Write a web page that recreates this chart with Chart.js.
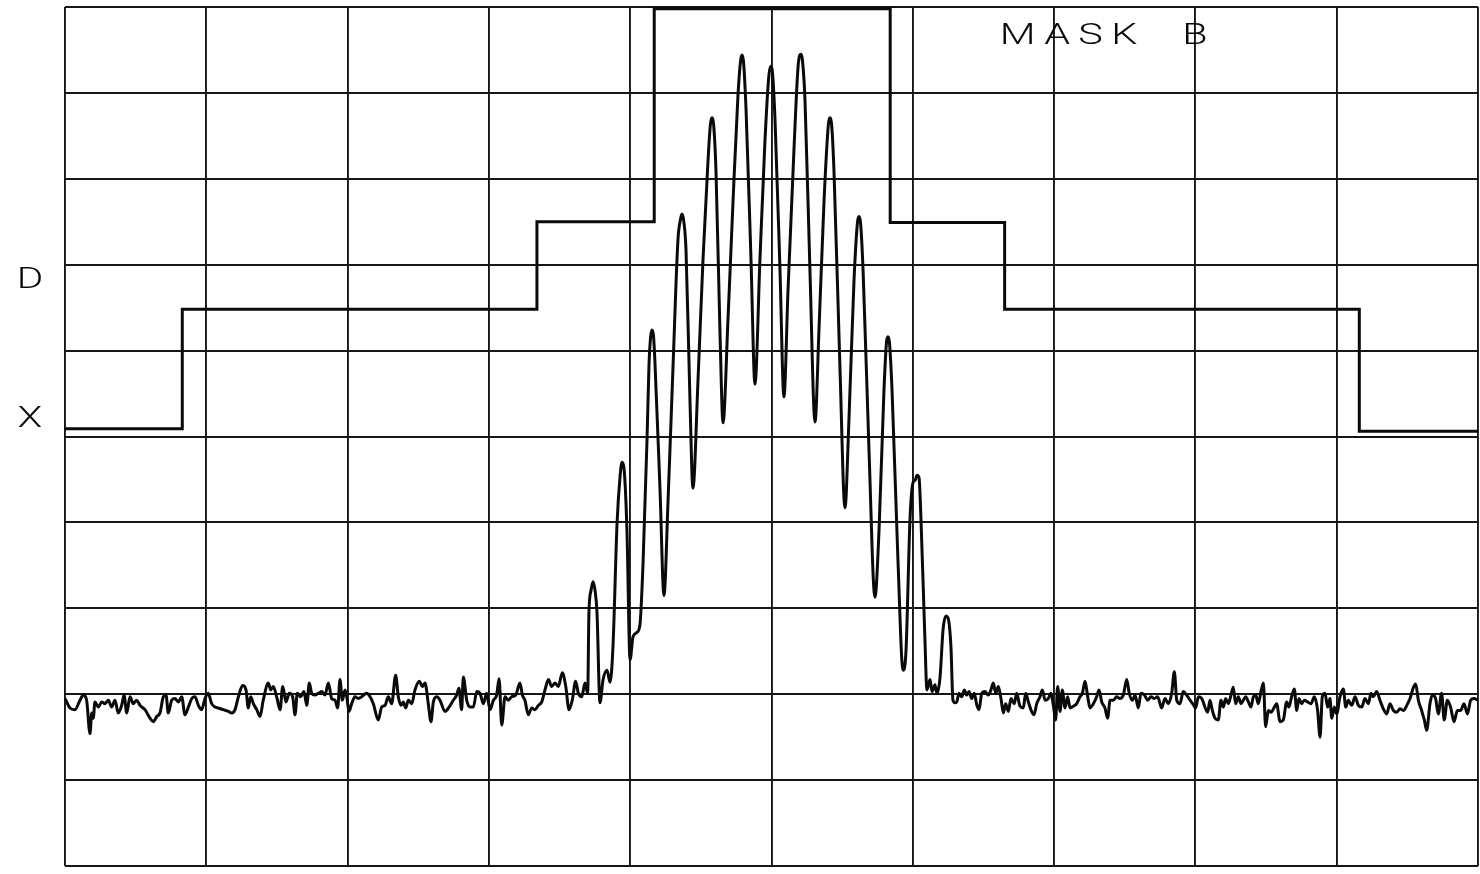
<!DOCTYPE html>
<html>
<head>
<meta charset="utf-8">
<title>MASK B</title>
<script src="https://cdn.jsdelivr.net/npm/chart.js@4.4.1/dist/chart.umd.min.js"></script>
<style>
  html, body { margin: 0; padding: 0; background: #fff; }
  canvas { display: block; }
</style>
</head>
<body>
<canvas id="plot" width="1480" height="874"></canvas>
<script>
// x: frequency in graticule divisions (0..10), y: level in dB (0 dB ref at top, 10 dB/div)

// noise floor below the signal
const noiseLowFreq = [
  0.000, 0.035, 0.071, 0.106, 0.130, 0.153, 0.177, 0.189, 0.200, 0.212,
  0.236, 0.260, 0.283, 0.307, 0.330, 0.354, 0.377, 0.401, 0.418, 0.437,
  0.460, 0.483, 0.507, 0.531, 0.566, 0.602, 0.625, 0.649, 0.672, 0.696,
  0.715, 0.731, 0.755, 0.778, 0.802, 0.826, 0.849, 0.873, 0.897, 0.920,
  0.944, 0.967, 0.991, 1.014, 1.038, 1.062, 1.085, 1.120, 1.156, 1.179,
  1.203, 1.227, 1.257, 1.281, 1.297, 1.314, 1.333, 1.357, 1.380, 1.403,
  1.439, 1.456, 1.474, 1.498, 1.522, 1.541, 1.564, 1.587, 1.611, 1.628,
  1.644, 1.668, 1.691, 1.711, 1.729, 1.746, 1.769, 1.793, 1.817, 1.840,
  1.864, 1.887, 1.911, 1.930, 1.946, 1.963, 1.982, 1.994, 2.010, 2.029,
  2.052, 2.076, 2.100, 2.135, 2.159, 2.182, 2.217, 2.241, 2.265, 2.288,
  2.312, 2.340, 2.359, 2.378, 2.394, 2.411, 2.430, 2.454, 2.477, 2.508,
  2.529, 2.548, 2.571, 2.590, 2.607, 2.631, 2.654, 2.689, 2.718, 2.748,
  2.772, 2.788, 2.807, 2.819, 2.843, 2.866, 2.890, 2.914, 2.937, 2.961,
  2.984, 3.008, 3.032, 3.055, 3.072, 3.091, 3.114, 3.137, 3.161, 3.190,
  3.220, 3.237, 3.255, 3.279, 3.303, 3.326, 3.350, 3.374, 3.397, 3.421,
  3.444, 3.468, 3.491, 3.520, 3.544, 3.567, 3.590, 3.614, 3.633, 3.657,
  3.680
];
const noiseLowLevel = [
  -80.5, -81.6, -81.8, -80.7, -80.1, -80.7, -84.6, -82.2, -82.8, -80.9,
  -81.5, -80.9, -81.1, -80.7, -81.5, -80.7, -82.2, -81.3, -80.1, -82.2,
  -80.3, -81.1, -80.7, -81.3, -81.8, -82.8, -83.2, -82.6, -82.2, -80.3,
  -80.1, -82.2, -80.7, -80.5, -80.9, -80.3, -82.4, -81.5, -80.5, -80.3,
  -81.3, -81.8, -80.5, -79.9, -81.1, -81.5, -81.6, -81.8, -82.0, -82.2,
  -81.8, -80.3, -79.0, -79.5, -81.6, -80.3, -81.1, -81.8, -82.6, -80.7,
  -78.7, -79.5, -79.1, -80.3, -81.8, -79.1, -80.9, -79.9, -80.3, -82.4,
  -79.9, -80.3, -79.7, -81.3, -78.7, -79.9, -80.1, -79.9, -79.7, -80.1,
  -78.7, -80.5, -80.7, -81.6, -78.3, -80.7, -79.5, -80.3, -82.0, -81.1,
  -80.3, -80.5, -80.3, -79.9, -80.3, -81.1, -83.0, -81.5, -81.3, -80.3,
  -81.1, -77.8, -80.3, -81.3, -80.9, -81.6, -80.7, -81.1, -79.5, -78.5,
  -79.1, -78.7, -81.1, -83.2, -80.9, -80.3, -80.7, -82.0, -81.5, -80.7,
  -80.1, -79.3, -81.8, -78.0, -80.7, -81.5, -81.5, -79.7, -79.9, -81.1,
  -79.9, -81.8, -80.7, -80.1, -78.2, -83.6, -80.3, -80.7, -80.3, -80.1,
  -78.7, -80.1, -80.7, -82.4, -81.6, -81.8, -81.3, -80.9, -79.5, -78.3,
  -79.1, -78.7, -79.1, -77.5, -79.1, -81.8, -80.7, -78.5, -79.9, -80.3,
  -78.7
];

// modulated carrier: side lobes around centre frequency
const lobeFreq = [
  3.699, 3.708, 3.723, 3.737, 3.751, 3.765, 3.786, 3.808, 3.836, 3.857,
  3.878, 3.907, 3.928, 3.942, 3.956, 3.977, 3.999, 4.020, 4.048, 4.069,
  4.091, 4.119, 4.133, 4.144, 4.154, 4.165, 4.175, 4.211, 4.239, 4.268,
  4.303, 4.338, 4.356, 4.366, 4.377, 4.395, 4.423, 4.444, 4.480, 4.515,
  4.551, 4.568, 4.579, 4.590, 4.607, 4.635, 4.657, 4.692, 4.728, 4.763,
  4.781, 4.791, 4.802, 4.820, 4.855, 4.883, 4.918, 4.954, 4.982, 4.996,
  5.007, 5.025, 5.060, 5.088, 5.117, 5.159, 5.191, 5.209, 5.219, 5.237,
  5.272, 5.308, 5.336, 5.372, 5.403, 5.414, 5.425, 5.442, 5.485, 5.520,
  5.548, 5.584, 5.609, 5.619, 5.630, 5.648, 5.690, 5.732, 5.761, 5.796,
  5.814, 5.824, 5.835, 5.853, 5.895, 5.931, 5.952, 5.980, 6.001, 6.016,
  6.030, 6.044, 6.058, 6.086, 6.100, 6.122, 6.136, 6.157, 6.171, 6.193,
  6.214, 6.235, 6.249, 6.270, 6.284, 6.299
];
const lobeLevel = [
  -79.9, -70.5, -67.9, -66.9, -67.9, -70.5, -81.0, -78.3, -77.2, -78.6,
  -74.5, -60.1, -54.7, -53.0, -53.7, -60.9, -76.0, -73.3, -72.8, -71.9,
  -64.7, -50.4, -41.7, -38.5, -37.6, -38.3, -41.3, -56.2, -68.5, -57.4,
  -41.9, -27.1, -24.7, -24.1, -24.7, -28.3, -45.8, -56.0, -43.4, -29.5,
  -17.8, -13.6, -12.9, -13.6, -19.0, -37.6, -48.4, -36.4, -22.5, -10.2,
  -6.3, -5.6, -6.4, -12.0, -29.5, -43.9, -29.5, -15.5, -7.9, -6.9,
  -7.6, -13.2, -30.6, -45.4, -32.9, -16.6, -6.4, -5.5, -6.2, -10.8,
  -30.6, -48.3, -37.6, -22.5, -13.6, -12.9, -13.6, -19.0, -42.3, -58.3,
  -48.1, -31.8, -25.0, -24.4, -25.1, -30.6, -51.6, -68.7, -60.9, -44.6,
  -39.0, -38.4, -39.1, -44.6, -64.4, -77.2, -74.9, -59.7, -55.4, -55.1,
  -54.5, -54.8, -59.7, -73.7, -79.5, -78.3, -79.7, -78.9, -79.9, -78.0,
  -72.5, -70.9, -71.1, -74.5, -80.7, -81.0
];

// noise floor above the signal
const noiseHighFreq = [
  6.311, 6.327, 6.346, 6.365, 6.381, 6.398, 6.417, 6.435, 6.452, 6.469,
  6.488, 6.511, 6.534, 6.553, 6.570, 6.587, 6.605, 6.624, 6.641, 6.657,
  6.676, 6.695, 6.718, 6.735, 6.759, 6.782, 6.799, 6.818, 6.841, 6.858,
  6.877, 6.900, 6.917, 6.936, 6.959, 6.978, 6.994, 7.011, 7.025, 7.042,
  7.058, 7.077, 7.096, 7.113, 7.136, 7.160, 7.183, 7.200, 7.219, 7.238,
  7.254, 7.278, 7.301, 7.318, 7.337, 7.360, 7.379, 7.396, 7.419, 7.443,
  7.466, 7.490, 7.514, 7.532, 7.554, 7.573, 7.596, 7.615, 7.639, 7.662,
  7.686, 7.709, 7.733, 7.761, 7.785, 7.808, 7.832, 7.851, 7.868, 7.891,
  7.914, 7.938, 7.962, 7.985, 8.002, 8.021, 8.044,
  8.087, 8.103, 8.120, 8.139, 8.162, 8.181, 8.198, 8.214, 8.233, 8.252,
  8.268, 8.285, 8.304, 8.323, 8.339, 8.356, 8.375, 8.393, 8.410, 8.427,
  8.445, 8.464, 8.481, 8.497, 8.516, 8.535, 8.559, 8.575, 8.599, 8.622,
  8.646, 8.662, 8.681, 8.700, 8.717, 8.733, 8.752, 8.771, 8.794, 8.818,
  8.842, 8.865, 8.882, 8.898, 8.917, 8.936, 8.952, 8.965, 8.983, 9.000,
  9.023, 9.047, 9.064, 9.082, 9.106, 9.130, 9.153, 9.177, 9.200, 9.224,
  9.243, 9.259, 9.283, 9.306, 9.330, 9.354, 9.377, 9.401, 9.425, 9.448,
  9.472, 9.496, 9.519, 9.543, 9.559, 9.578, 9.601, 9.620, 9.637, 9.660,
  9.677, 9.700, 9.719, 9.742, 9.761, 9.783, 9.806, 9.830, 9.854, 9.877,
  9.901, 9.925, 9.948, 9.972, 10.000
];
const noiseHighLevel = [
  -80.9, -79.9, -80.3, -79.5, -80.1, -79.7, -80.5, -79.9, -81.2, -81.8,
  -79.9, -79.7, -80.1, -79.5, -78.7, -79.9, -79.1, -80.5, -82.2, -81.1,
  -82.0, -80.5, -81.1, -79.9, -81.4, -81.6, -79.9, -80.9, -82.0, -82.4,
  -81.1, -80.3, -79.5, -80.7, -80.5, -79.9, -81.2, -83.0, -79.1, -82.0,
  -79.5, -81.6, -80.3, -81.6, -81.4, -81.1, -80.3, -79.9, -78.5, -80.3,
  -81.6, -81.1, -80.3, -79.5, -80.9, -81.6, -82.8, -80.7, -80.7, -80.3,
  -80.5, -80.1, -78.3, -79.9, -80.7, -80.1, -81.6, -79.9, -80.1, -80.7,
  -80.3, -80.5, -80.3, -81.6, -80.5, -81.1, -79.9, -77.4, -80.7, -81.1,
  -79.7, -80.1, -80.7, -81.2, -81.6, -80.3, -80.5,
  -82.1, -80.7, -81.9, -82.8, -83.0, -80.7, -81.5, -80.5, -81.1, -80.1,
  -79.2, -81.1, -80.3, -81.1, -80.7, -80.3, -80.9, -81.5, -80.3, -80.1,
  -81.1, -79.7, -78.7, -83.8, -81.9, -82.1, -81.5, -81.1, -83.2, -83.0,
  -80.9, -81.5, -80.3, -79.4, -81.9, -80.5, -81.1, -80.7, -80.9, -81.1,
  -80.3, -81.9, -85.0, -80.3, -79.9, -81.5, -80.5, -82.8, -81.5, -82.3,
  -80.3, -79.4, -81.5, -80.7, -81.3, -80.3, -81.3, -81.5, -80.5, -81.1,
  -79.9, -80.3, -79.7, -80.7, -81.7, -82.3, -81.1, -81.9, -82.1, -81.7,
  -81.9, -81.3, -80.5, -79.2, -78.8, -80.7, -81.9, -83.0, -84.2, -81.1,
  -80.1, -80.5, -82.3, -79.9, -83.0, -80.7, -81.5, -83.2, -81.9, -81.9,
  -81.1, -82.3, -80.7, -80.5, -80.7
];

// limit mask B: breakpoints, each level held until the next breakpoint
const maskFreq = [0, 0.83, 3.34, 4.17, 5.84, 6.65, 9.16, 10];
const maskLevel = [-49.1, -35.2, -25.0, -0.2, -25.1, -35.2, -49.4, -49.4];

const traceFreq = noiseLowFreq.concat(lobeFreq, noiseHighFreq);
const traceLevel = noiseLowLevel.concat(lobeLevel, noiseHighLevel);

const toPoints = (xs, ys) => xs.map((x, i) => ({ x: x, y: ys[i] }));

const INK = '#0a0a0a';

// plotter-style annotations around the graticule
const plotterText = {
  id: 'plotterText',
  afterDraw(chart) {
    const { ctx, chartArea, scales } = chart;
    ctx.save();
    ctx.fillStyle = INK;
    ctx.font = '300 30px Roboto, "DejaVu Sans", sans-serif';
    ctx.textBaseline = 'alphabetic';

    // title in the upper right
    ctx.save();
    ctx.translate(scales.x.getPixelForValue(6.615), chartArea.top + 37);
    ctx.scale(1.38, 1);
    ctx.letterSpacing = '6px';
    ctx.textAlign = 'left';
    ctx.fillText('MASK  B', 0, 0);
    ctx.restore();

    // side markers
    ctx.textAlign = 'center';
    ctx.save();
    ctx.translate(chartArea.left - 35, scales.y.getPixelForValue(-32.7));
    ctx.scale(1.35, 1);
    ctx.fillText('D', 0, 0);
    ctx.restore();
    ctx.save();
    ctx.translate(chartArea.left - 35, scales.y.getPixelForValue(-48.9));
    ctx.scale(1.35, 1);
    ctx.fillText('X', 0, 0);
    ctx.restore();
    ctx.restore();
  }
};

const axisStyle = {
  type: 'linear',
  ticks: { display: false },
  grid: { color: '#161616', lineWidth: 1.9, drawTicks: false },
  border: { display: false }
};

new Chart(document.getElementById('plot'), {
  type: 'line',
  data: {
    datasets: [
      {
        label: 'Mask B',
        data: toPoints(maskFreq, maskLevel),
        stepped: 'before',
        borderColor: INK,
        borderWidth: 3,
        pointRadius: 0,
        fill: false
      },
      {
        label: 'Trace',
        data: toPoints(traceFreq, traceLevel),
        borderColor: INK,
        borderWidth: 3,
        pointRadius: 0,
        fill: false,
        cubicInterpolationMode: 'monotone',
        borderJoinStyle: 'round'
      }
    ]
  },
  options: {
    responsive: false,
    animation: false,
    layout: { padding: { left: 65, right: 2, top: 7, bottom: 8 } },
    plugins: {
      legend: { display: false },
      tooltip: { enabled: false }
    },
    scales: {
      x: Object.assign({}, axisStyle, { min: 0, max: 10, ticks: { display: false, stepSize: 1 } }),
      y: Object.assign({}, axisStyle, { min: -100, max: 0, ticks: { display: false, stepSize: 10 } })
    }
  },
  plugins: [plotterText]
});
</script>
</body>
</html>
